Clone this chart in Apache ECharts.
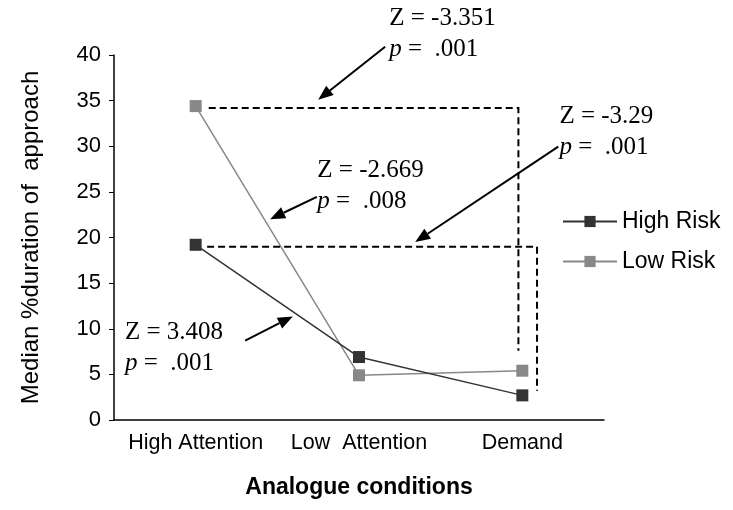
<!DOCTYPE html>
<html>
<head>
<meta charset="utf-8">
<script src="https://cdn.jsdelivr.net/npm/echarts@6/dist/echarts.min.js"></script>
<style>
  html, body { margin: 0; padding: 0; background: #fff; }
  #chart { width: 733px; height: 510px; }
</style>
</head>
<body>
<div id="chart"></div>
<script>
// data
const categories = ['High Attention', 'Low  Attention', 'Demand'];
const highRisk = [19.2, 6.9, 2.7];
const lowRisk = [34.4, 4.9, 5.4];
const seriesNames = ['High Risk', 'Low Risk'];
const statZ = ['Z = -3.351', 'Z = -2.669', 'Z = -3.29', 'Z = 3.408'];
const statP = ['.001', '.008', '.001', '.001'];

// annotation placement in [category index, value] space
const textAt = [[1.185, 45.7], [0.745, 29.0], [2.227, 35.0], [-0.433, 11.3]];
const arrows = [
  [[1.16, 40.9], [0.75, 35.1]],
  [[0.742, 24.46], [0.456, 22.0]],
  [[2.22, 29.96], [1.344, 19.5]],
  [[0.303, 8.71], [0.595, 11.35]]
];
const brackets = [
  [[0.08, 34.2], [1.976, 34.2], [1.976, 7.6]],
  [[0.07, 19.0], [2.09, 19.0], [2.09, 3.2]]
];

const sans = 'Liberation Sans';
const serif = 'Liberation Serif';

const chart = echarts.init(document.getElementById('chart'));

chart.setOption({
  animation: false,
  grid: { left: 114, right: 129, top: 55, bottom: 90 },
  legend: {
    orient: 'vertical',
    left: 557,
    top: 205,
    itemWidth: 54,
    itemHeight: 14,
    itemGap: 17,
    textStyle: { fontFamily: sans, fontSize: 23, color: '#000' },
    data: seriesNames
  },
  xAxis: {
    type: 'category',
    data: categories,
    name: 'Analogue conditions',
    nameLocation: 'middle',
    nameGap: 56,
    nameTextStyle: { fontFamily: sans, fontSize: 23, fontWeight: 'bold', color: '#000' },
    axisLine: { lineStyle: { color: '#000', width: 1.5 } },
    axisTick: { length: 5, lineStyle: { color: '#000' } },
    axisLabel: { interval: 0, fontFamily: sans, fontSize: 21.5, color: '#000', margin: 12 }
  },
  yAxis: {
    type: 'value',
    min: 0,
    max: 40,
    interval: 5,
    name: 'Median %duration of  approach',
    nameLocation: 'middle',
    nameGap: 71,
    nameTextStyle: { fontFamily: sans, fontSize: 24, color: '#000' },
    axisLine: { show: true, lineStyle: { color: '#000', width: 1.5 } },
    axisTick: { show: true, length: 5, lineStyle: { color: '#000' } },
    axisLabel: { fontFamily: sans, fontSize: 22, color: '#000', margin: 13 },
    splitLine: { show: false }
  },
  series: [
    {
      name: seriesNames[0],
      type: 'line',
      data: highRisk,
      symbol: 'rect',
      symbolSize: 12,
      color: '#333333',
      lineStyle: { color: '#333333', width: 1.5 },
      itemStyle: { color: '#333333' },
      z: 3
    },
    {
      name: seriesNames[1],
      type: 'line',
      data: lowRisk,
      symbol: 'rect',
      symbolSize: 12,
      color: '#888888',
      lineStyle: { color: '#888888', width: 1.5 },
      itemStyle: { color: '#888888' },
      z: 2
    }
  ]
});

// map [category index, value] to pixels through the chart's own axes
const x0 = chart.convertToPixel({ xAxisIndex: 0 }, categories[0]);
const x1 = chart.convertToPixel({ xAxisIndex: 0 }, categories[1]);
function pt(p) {
  return [x0 + p[0] * (x1 - x0), chart.convertToPixel({ yAxisIndex: 0 }, p[1])];
}

const graphics = [];

brackets.forEach(b => {
  graphics.push({
    type: 'polyline',
    shape: { points: b.map(pt) },
    style: { stroke: '#000', lineWidth: 2, lineDash: [7, 4], fill: null },
    z: 10
  });
});

arrows.forEach(a => {
  const s = pt(a[0]), e = pt(a[1]);
  const dx = e[0] - s[0], dy = e[1] - s[1];
  const len = Math.sqrt(dx * dx + dy * dy);
  const ux = dx / len, uy = dy / len;
  const hl = 15, hw = 6;
  const bx = e[0] - ux * hl, by = e[1] - uy * hl;
  graphics.push({
    type: 'line',
    shape: { x1: s[0], y1: s[1], x2: bx, y2: by },
    style: { stroke: '#000', lineWidth: 2 },
    z: 10
  });
  graphics.push({
    type: 'polygon',
    shape: { points: [e, [bx - uy * hw, by + ux * hw], [bx + uy * hw, by - ux * hw]] },
    style: { fill: '#000' },
    z: 10
  });
});

textAt.forEach((p, i) => {
  const q = pt(p);
  graphics.push({
    type: 'text',
    x: q[0],
    y: q[1],
    style: {
      text: statZ[i] + '\n{i|p} =  ' + statP[i],
      fontFamily: serif,
      fontSize: 25,
      lineHeight: 31,
      fill: '#000',
      verticalAlign: 'top',
      rich: {
        i: { fontStyle: 'italic', fontFamily: serif, fontSize: 25, lineHeight: 31 }
      }
    },
    z: 11
  });
});

chart.setOption({ graphic: graphics });
</script>
</body>
</html>
